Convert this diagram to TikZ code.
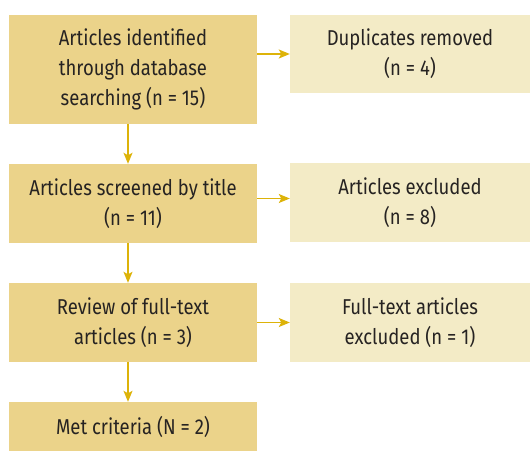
\documentclass[tikz,border=0pt]{standalone}
\usepackage{fontspec}
\setmainfont{Fira Sans}[FakeStretch=0.86]
\usetikzlibrary{arrows.meta}
\definecolor{boxdark}{HTML}{EBD38A}
\definecolor{boxlight}{HTML}{F3EBC6}
\definecolor{flowgold}{HTML}{DDB309}
\definecolor{textgray}{HTML}{262322}
\tikzset{
  mainbox/.style = {fill=boxdark, text=textgray, align=center, inner sep=0pt,
                    minimum width=248pt, font=\fontsize{21.5}{30}\selectfont},
  sidebox/.style = {fill=boxlight, text=textgray, align=center, inner sep=0pt,
                    minimum width=240pt, font=\fontsize{21.5}{30}\selectfont},
  flow/.style = {draw=flowgold, line width=1.2pt, -{Stealth[length=11pt, width=9pt, inset=2.5pt]}}
}
\begin{document}
\begin{tikzpicture}[x=1pt, y=1pt]
        \useasboundingbox (0, 0) rectangle (530, -458);
        % left column
        \node [mainbox, minimum height=109pt] (ident) at (133, -69.5) {Articles identified\\through database\\searching (n = 15)};
        \node [mainbox, minimum height=79pt] (screen) at (133, -203.5) {Articles screened by title\\(n = 11)};
        \node [mainbox, minimum height=79pt] (review) at (133, -322.5) {Review of full-text\\articles (n = 3)};
        \node [mainbox, minimum height=49pt] (met) at (133, -426.5) {Met criteria (N = 2)};
        % right column
        \node [sidebox, minimum height=78pt] (dupl) at (410, -54) {Duplicates removed\\(n = 4)};
        \node [sidebox, minimum height=79pt] (excl) at (410, -202.5) {Articles excluded\\(n = 8)};
        \node [sidebox, minimum height=79pt] (fullex) at (410, -322.5) {Full-text articles\\excluded (n = 1)};
        % arrows
        \draw [flow] ([xshift=-5pt]ident.south) -- ([xshift=-5pt]screen.north);
        \draw [flow] ([xshift=-5pt]screen.south) -- ([xshift=-5pt]review.north);
        \draw [flow] ([xshift=-5pt]review.south) -- ([xshift=-5pt]met.north);
        \draw [flow] (dupl.west -| ident.east) -- (dupl.west);
        \draw [flow] ([yshift=4pt]excl.west -| screen.east) -- ([yshift=4pt]excl.west);
        \draw [flow] (fullex.west -| review.east) -- (fullex.west);
    \end{tikzpicture}
\end{document}
